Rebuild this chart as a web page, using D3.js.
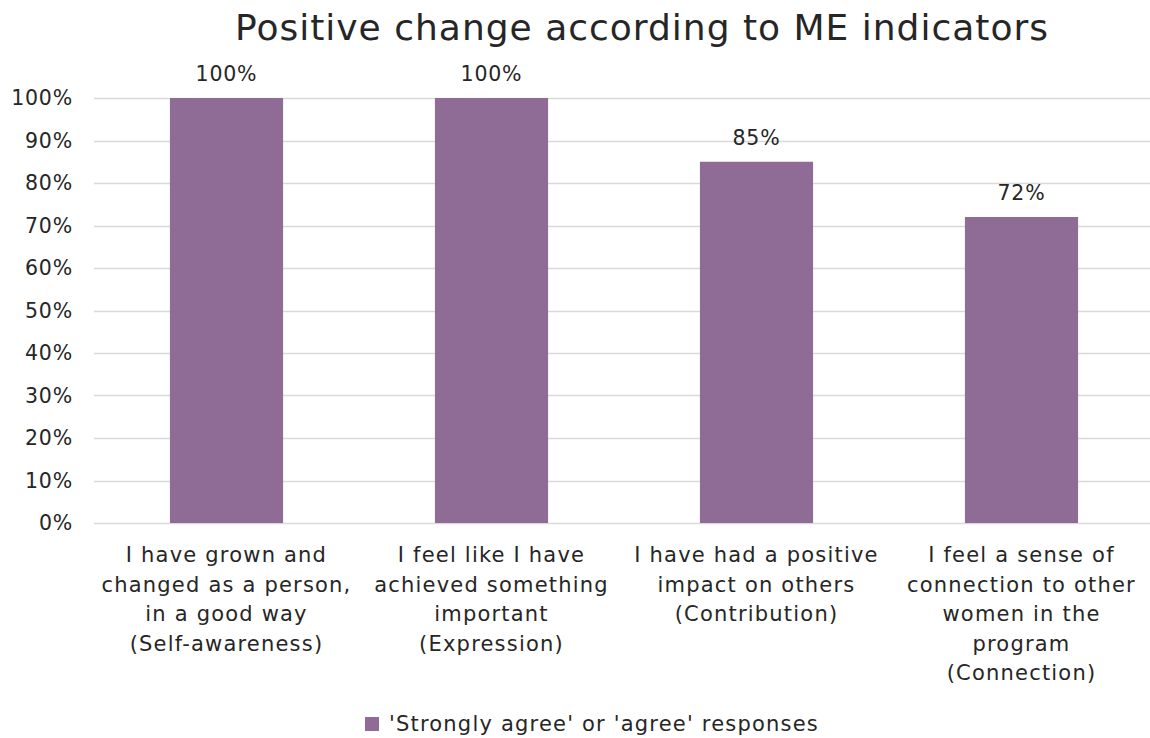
<!DOCTYPE html>
<html>
<head>
<meta charset="utf-8">
<script src="https://cdn.jsdelivr.net/npm/d3@7"></script>
<style>
  body { margin: 0; background: #fff; }
  text { font-family: "DejaVu Sans", "Noto Sans", sans-serif; fill: #262626; }
</style>
</head>
<body>
<div id="chart"></div>
<script>
const chartTitle = "Positive change according to ME indicators";
const categories = [
    ["I have grown and", "changed as a person,", "in a good way", "(Self-awareness)"],
    ["I feel like I have", "achieved something", "important", "(Expression)"],
    ["I have had a positive", "impact on others", "(Contribution)"],
    ["I feel a sense of", "connection to other", "women in the", "program", "(Connection)"]
];
const values = [1.00, 1.00, 0.85, 0.72];
const yTicks = [0, 0.1, 0.2, 0.3, 0.4, 0.5, 0.6, 0.7, 0.8, 0.9, 1.0];
const seriesName = "'Strongly agree' or 'agree' responses";

const width = 1150, height = 738;
const barColor = '#8e6c96';
const gridColor = '#d9d9d9';
const pct = d3.format('.0%');

const svg = d3.select('#chart').append('svg')
    .attr('width', width)
    .attr('height', height);

const x = d3.scaleBand()
    .domain(d3.range(categories.length))
    .range([94, 1154])
    .paddingInner(0.573)
    .paddingOuter(0.2865);

const y = d3.scaleLinear()
    .domain([0, 1])
    .range([523, 98]);

// title
svg.append('text')
    .attr('x', 642)
    .attr('y', 40)
    .attr('text-anchor', 'middle')
    .style('font-size', '36px')
    .style('letter-spacing', '1px')
    .text(chartTitle);

// grid
svg.append('g')
    .selectAll('line')
    .data(yTicks)
    .enter()
    .append('line')
    .attr('x1', 94)
    .attr('x2', width)
    .attr('y1', d => Math.round(y(d)) + 0.5)
    .attr('y2', d => Math.round(y(d)) + 0.5)
    .style('stroke', gridColor)
    .style('stroke-width', 1.6);

// y axis labels
const yAxis = d3.axisLeft(y)
    .tickValues(yTicks)
    .tickFormat(pct)
    .tickSize(0)
    .tickPadding(0);
svg.append('g')
    .attr('transform', 'translate(73, 0)')
    .call(yAxis)
    .call(g => g.select('.domain').remove())
    .call(g => g.selectAll('text')
        .style('font-size', '20.5px')
        .style('letter-spacing', '0.8px')
        .style('font-family', '"DejaVu Sans", sans-serif')
        .attr('fill', '#262626'));

// bars
svg.append('g')
    .selectAll('rect')
    .data(values)
    .enter()
    .append('rect')
    .attr('x', (d, i) => x(i))
    .attr('y', d => y(d))
    .attr('width', x.bandwidth())
    .attr('height', d => y(0) - y(d))
    .style('fill', barColor);

// value labels
svg.append('g')
    .selectAll('text')
    .data(values)
    .enter()
    .append('text')
    .attr('x', (d, i) => x(i) + x.bandwidth() / 2)
    .attr('y', d => y(d) - 17)
    .attr('text-anchor', 'middle')
    .style('font-size', '20.5px')
    .style('letter-spacing', '0.8px')
    .text(d => pct(d));

// category labels
const catG = svg.append('g')
    .selectAll('text')
    .data(categories)
    .enter()
    .append('text')
    .attr('text-anchor', 'middle')
    .style('font-size', '21px')
    .style('letter-spacing', '1.2px');
catG.selectAll('tspan')
    .data((d, i) => d.map(line => ({line, i})))
    .enter()
    .append('tspan')
    .attr('x', d => x(d.i) + x.bandwidth() / 2)
    .attr('y', (d, j) => 562 + j * 29.5)
    .text(d => d.line);

// legend
const legend = svg.append('g');
legend.append('rect')
    .attr('x', 365)
    .attr('y', 717)
    .attr('width', 14)
    .attr('height', 14)
    .style('fill', barColor);
legend.append('text')
    .attr('x', 389)
    .attr('y', 731)
    .style('font-size', '21px')
    .style('letter-spacing', '1.2px')
    .text(seriesName);
</script>
</body>
</html>
